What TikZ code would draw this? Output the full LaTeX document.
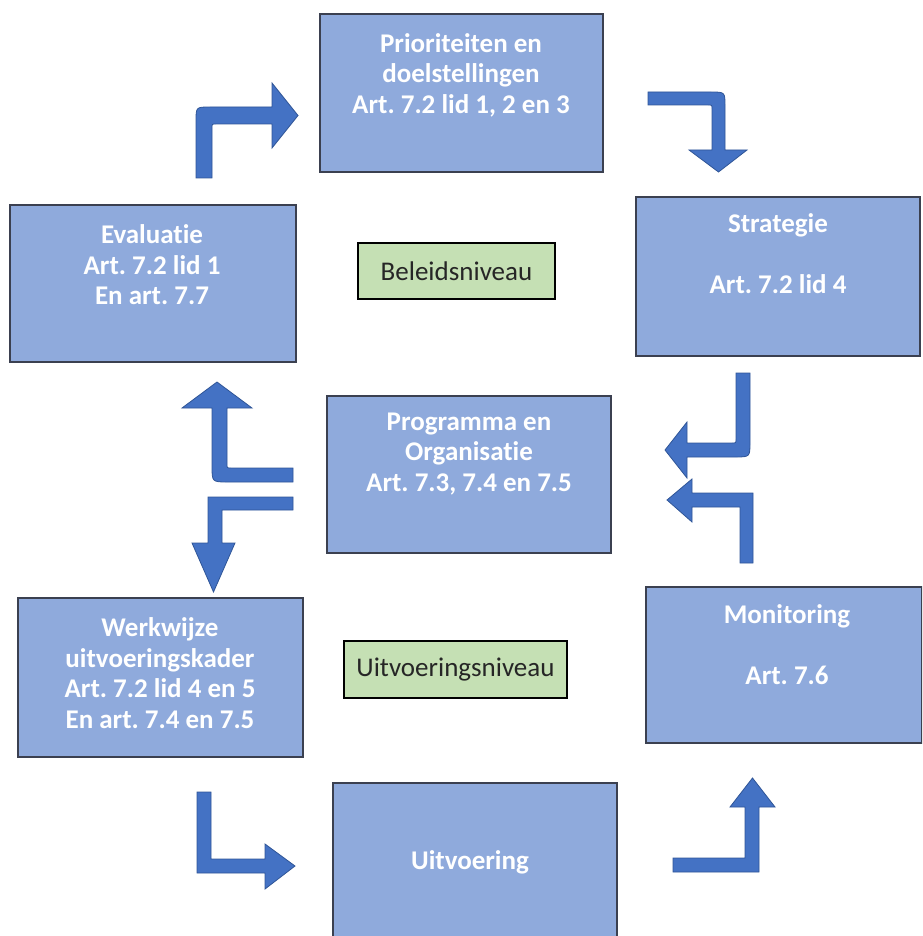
\documentclass[tikz,border=0pt]{standalone}
\usepackage{fontspec}
\setmainfont{Carlito}[Ligatures={NoCommon}]
\frenchspacing
\definecolor{boxfill}{HTML}{8FAADC}
\definecolor{boxline}{HTML}{3B4050}
\definecolor{lvlfill}{HTML}{C5E0B4}
\definecolor{arrfill}{HTML}{4472C4}
\definecolor{arrline}{HTML}{2F5597}
\begin{document}
\begin{tikzpicture}[x=1pt,y=-1pt,
  blockbox/.style={draw=boxline,line width=1.6pt,fill=boxfill,inner sep=0pt},
  lvlbox/.style={draw=black,line width=1.8pt,fill=lvlfill,inner sep=0pt},
  boxtext/.style={text=white,font=\fontsize{27}{30.5}\selectfont\bfseries,align=center,inner sep=0pt},
  lvltext/.style={text=black!85,font=\fontsize{27}{30}\selectfont,inner sep=0pt},
  bentarrow/.style={fill=arrfill,draw=arrline,line width=0.8pt,line join=miter}]
\useasboundingbox (0,0) rectangle (922,936);
\clip (0,0) rectangle (922,936);
% boxes
\node[blockbox,minimum width=283pt,minimum height=158pt] (prio) at (461.5,93) {};
\node[blockbox,minimum width=284pt,minimum height=159pt] (strat) at (778,276.5) {};
\node[blockbox,minimum width=286pt,minimum height=157pt] (eval) at (153,283.5) {};
\node[blockbox,minimum width=284pt,minimum height=157pt] (prog) at (469,474.5) {};
\node[blockbox,minimum width=285pt,minimum height=159pt] (werk) at (160.5,677.5) {};
\node[blockbox,minimum width=276pt,minimum height=156pt] (moni) at (784,665) {};
\node[blockbox,minimum width=284pt,minimum height=170pt] (uitv) at (475,868) {};
\node[lvlbox,minimum width=197pt,minimum height=56pt] (bel) at (456.5,271) {};
\node[lvlbox,minimum width=223pt,minimum height=57pt] (uitn) at (455.5,669.5) {};
% texts
\node[boxtext] (priot) at (461,75) {Prioriteiten en\\doelstellingen\\Art. 7.2 lid 1, 2 en 3};
\node[boxtext] (stratt) at (778,254) {Strategie\\[30.5pt]Art. 7.2 lid 4};
\node[boxtext] (evalt) at (152,265) {Evaluatie\\Art. 7.2 lid 1\\En art. 7.7};
\node[boxtext] (progt) at (469,454) {Programma en\\Organisatie\\Art. 7.3, 7.4 en 7.5};
\node[boxtext] (werkt) at (160,673) {Werkwijze\\uitvoeringskader\\Art. 7.2 lid 4 en 5\\En art. 7.4 en 7.5};
\node[boxtext] (monit) at (787,645) {Monitoring\\[30.5pt]Art. 7.6};
\node[boxtext] (uitvt) at (470,862) {Uitvoering};
\node[lvltext] (belt) at (456.5,271) {Beleidsniveau};
\node[lvltext] (uitnt) at (455.5,669.5) {Uitvoeringsniveau};
% bent arrows
% evaluatie -> prioriteiten
\draw[bentarrow] (196,178) -- (196,121) .. controls (196,107) .. (210,107) -- (272,107) -- (272,83)
  -- (298,115.5) -- (272,148) -- (272,124) -- (216,124) .. controls (212,124) .. (212,128) -- (212,178) -- cycle;
% prioriteiten -> strategie
\draw[bentarrow] (648,92) -- (711,92) .. controls (725,92) .. (725,106) -- (725,150) -- (747,150)
  -- (718.5,172) -- (689,150) -- (712,150) -- (712,109) .. controls (712,105) .. (708,105) -- (648,105) -- cycle;
% strategie -> programma
\draw[bentarrow] (736,373) -- (750,373) -- (750,442) .. controls (750,457) .. (735,457) -- (687,457)
  -- (687,478) -- (665,450) -- (687,422) -- (687,443) -- (732,443) .. controls (736,443) .. (736,439) -- cycle;
% monitoring -> programma
\draw[bentarrow] (740,563) -- (753,563) -- (753,493) -- (692,493) -- (692,479) -- (667,500)
  -- (692,522) -- (692,507) -- (740,507) -- cycle;
% programma -> evaluatie
\draw[bentarrow] (293,468) -- (231,468) .. controls (227,468) .. (227,464) -- (227,408) -- (252,408)
  -- (217,382) -- (182,408) -- (212,408) -- (212,466) .. controls (212,482) .. (228,482) -- (293,482) -- cycle;
% programma -> werkwijze
\draw[bentarrow] (293,497) -- (208,497) -- (208,543) -- (192,543) -- (213.5,592) -- (235,543)
  -- (222,543) -- (222,510) -- (293,510) -- cycle;
% werkwijze -> uitvoering
\draw[bentarrow] (197,792) -- (211,792) -- (211,859) -- (265,859) -- (265,844) -- (295,866)
  -- (265,889) -- (265,873) -- (197,873) -- cycle;
% uitvoering -> monitoring
\draw[bentarrow] (673,858) -- (745,858) -- (745,807) -- (730,807) -- (752.5,778) -- (775,807)
  -- (759,807) -- (759,872) -- (673,872) -- cycle;
\end{tikzpicture}
\end{document}
